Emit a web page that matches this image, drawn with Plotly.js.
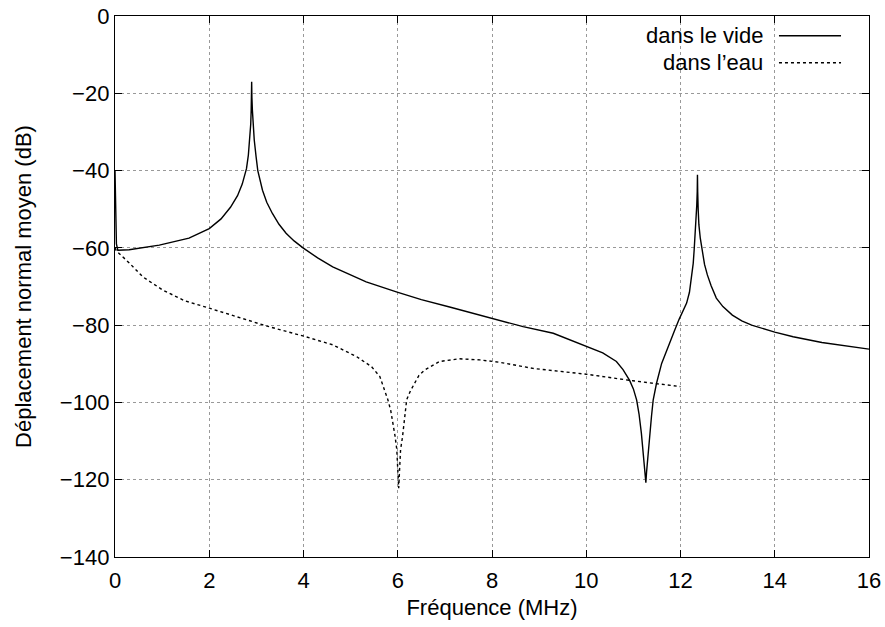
<!DOCTYPE html>
<html>
<head>
<meta charset="utf-8">
<script src="https://cdn.plot.ly/plotly-3.0.1.min.js"></script>
<style>html,body{margin:0;padding:0;background:#fff;}#chart{width:885px;height:627px;}</style>
</head>
<body>
<div id="chart"></div>
<script>
// Series names
const seriesNames = ["dans le vide", "dans l\u2019eau"];

// "dans le vide" (vacuum) — frequency (MHz) and displacement (dB)
const videFreq = [0, 0.01, 0.03, 0.06, 0.3, 0.94, 1.57, 2.0, 2.25, 2.45, 2.6, 2.7, 2.75, 2.79, 2.83, 2.86, 2.88, 2.89, 2.895, 2.90, 2.905, 2.915, 2.935, 2.955, 2.995, 3.03, 3.13, 3.22, 3.34, 3.48, 3.63, 3.8, 3.99, 4.3, 4.62, 5.0, 5.33, 5.97, 6.5, 7.1, 8.0, 8.66, 9.3, 10.0, 10.35, 10.64, 10.78, 10.92, 11.0, 11.07, 11.12, 11.17, 11.20, 11.23, 11.25, 11.265, 11.28, 11.30, 11.325, 11.35, 11.385, 11.42, 11.49, 11.6, 11.68, 11.77, 11.87, 11.97, 12.05, 12.13, 12.19, 12.24, 12.27, 12.29, 12.31, 12.33, 12.345, 12.355, 12.36, 12.365, 12.375, 12.39, 12.42, 12.46, 12.51, 12.57, 12.65, 12.76, 12.9, 13.1, 13.3, 13.51, 14.0, 14.39, 15.0, 16.0];
const videDB   = [-40, -52, -59, -60.6, -60.5, -59.3, -57.5, -55.0, -52.5, -49.5, -46.5, -43.5, -41.5, -39.5, -36.0, -32.1, -28.0, -24.3, -21.0, -17.0, -21.0, -24.3, -28.0, -32.1, -36.5, -40.0, -45.1, -48.2, -51.1, -53.9, -56.2, -58.2, -60.0, -62.6, -64.9, -67.0, -68.8, -71.4, -73.4, -75.3, -78.3, -80.4, -82.1, -85.4, -87.2, -89.4, -91.5, -94.3, -96.5, -99.4, -103.0, -108.0, -111.5, -114.9, -118.0, -120.8, -118.0, -114.9, -111.5, -108.0, -103.5, -99.4, -95.1, -89.9, -87.3, -84.7, -81.5, -78.5, -76.6, -74.3, -71.5, -67.5, -64.0, -60.5, -57.0, -53.0, -49.0, -45.5, -41.1, -45.5, -50.0, -54.0, -57.5, -61.0, -64.3, -67.0, -69.8, -73.0, -75.2, -77.4, -78.9, -80.0, -81.8, -83.0, -84.5, -86.2];

// "dans l'eau" (water)
const eauFreq = [0, 0.03, 0.31, 0.59, 1.01, 1.48, 2.0, 2.71, 3.21, 4.02, 4.62, 5.12, 5.44, 5.62, 5.70, 5.79, 5.85, 5.90, 5.94, 5.98, 6.00, 6.02, 6.04, 6.06, 6.10, 6.13, 6.16, 6.19, 6.27, 6.36, 6.45, 6.57, 6.89, 7.31, 7.74, 8.16, 8.87, 10.0, 10.99, 12.0];
const eauDB   = [-60, -60.8, -64.0, -67.5, -70.9, -73.7, -75.6, -78.2, -80.2, -82.9, -85.1, -88.1, -90.7, -93.3, -96.0, -99.3, -102.0, -105.3, -108.5, -112.2, -117.0, -122.2, -117.0, -112.2, -109.0, -106.2, -102.5, -99.3, -97.0, -95.0, -93.0, -91.6, -89.4, -88.7, -89.0, -89.6, -91.2, -92.7, -94.4, -95.9];

// Axis ticks
const xTicks = [0, 2, 4, 6, 8, 10, 12, 14, 16];
const yTicks = [0, -20, -40, -60, -80, -100, -120, -140];

const FONT = "Liberation Sans, Arial, Helvetica, sans-serif";
const FS = 22;

const traces = [
  {x: videFreq, y: videDB, name: seriesNames[0], mode: "lines",
   line: {color: "#000", width: 1.4}, showlegend: false},
  {x: eauFreq, y: eauDB, name: seriesNames[1], mode: "lines",
   line: {color: "#000", width: 1.4, dash: "3px,3px"}, showlegend: false}
];

const axisCommon = {
  showline: true, linecolor: "#000", linewidth: 1.2, mirror: "allticks",
  ticks: "inside", ticklen: 7, tickcolor: "#000", tickwidth: 1,
  showgrid: true, gridcolor: "#999", griddash: "dot", gridwidth: 1,
  zeroline: false, tickfont: {family: FONT, size: FS, color: "#000"}
};

const layout = {
  width: 885, height: 627,
  margin: {l: 115, r: 16, t: 16, b: 70},
  paper_bgcolor: "#fff", plot_bgcolor: "#fff",
  font: {family: FONT, color: "#000"},
  xaxis: Object.assign({}, axisCommon, {
    range: [0, 16], tickvals: xTicks, ticklabelstandoff: 3,
    title: {text: "Fr\u00e9quence (MHz)", font: {family: FONT, size: FS}, standoff: 8}
  }),
  yaxis: Object.assign({}, axisCommon, {
    range: [-140, 0], tickvals: yTicks,
    title: {text: "D\u00e9placement normal moyen (dB)", font: {family: FONT, size: FS}, standoff: 22}
  }),
  annotations: [
    {text: seriesNames[0], xref: "paper", yref: "paper", x: 0.862, y: 0.9636,
     xanchor: "right", yanchor: "middle", showarrow: false, font: {family: FONT, size: FS}},
    {text: seriesNames[1], xref: "paper", yref: "paper", x: 0.862, y: 0.9137,
     xanchor: "right", yanchor: "middle", showarrow: false, font: {family: FONT, size: FS}}
  ],
  shapes: [
    {type: "line", xref: "paper", yref: "paper", x0: 0.8806, x1: 0.9629, y0: 0.9636, y1: 0.9636,
     line: {color: "#000", width: 1.4}},
    {type: "line", xref: "paper", yref: "paper", x0: 0.8806, x1: 0.9629, y0: 0.9137, y1: 0.9137,
     line: {color: "#000", width: 1.4, dash: "3px,3px"}}
  ]
};

Plotly.newPlot("chart", traces, layout, {staticPlot: true, displayModeBar: false});
</script>
</body>
</html>
